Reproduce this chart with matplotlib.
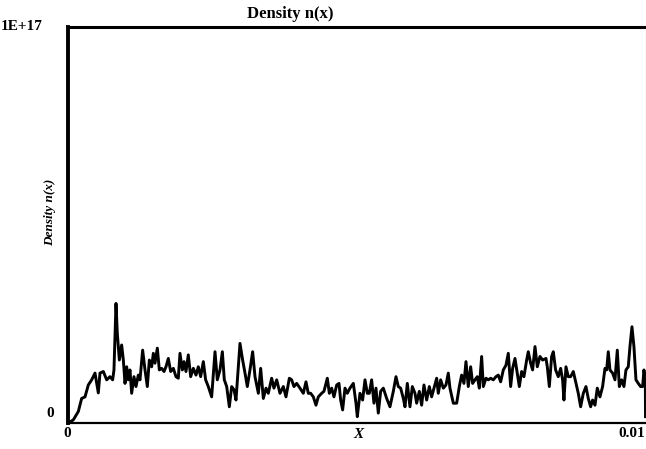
import matplotlib
matplotlib.use("Agg")
import matplotlib.pyplot as plt
import matplotlib.transforms as mtransforms
import numpy as np

# position along X in units of 1e-4, density in units of 1e16
x_pos = [0.0, 0.14, 1.01, 1.87, 2.45, 3.03, 3.60, 4.18, 4.76, 5.33, 5.62, 6.20, 6.78, 7.35, 7.81,
         8.04, 8.39, 8.62, 8.97, 9.37, 9.66, 9.95, 10.24, 10.52, 10.81, 11.10, 11.50, 11.85,
         12.25, 12.54, 13.00, 13.41, 13.81, 14.16, 14.56, 14.85, 15.14, 15.54, 15.89, 16.29,
         16.70, 17.04, 17.44, 17.85, 18.31, 18.77, 19.17, 19.46, 19.87, 20.16, 20.50, 20.90,
         21.31, 21.77, 22.23, 22.63, 23.04, 23.50, 23.90, 24.36, 24.94, 25.52, 25.92, 26.38,
         26.79, 27.13, 27.54, 28.00, 28.40, 28.81, 29.15, 29.84, 30.30, 30.71, 31.11, 31.57,
         32.03, 32.44,
         33.02, 33.42, 33.88, 34.34, 34.74, 35.32, 35.72, 36.19, 36.76, 37.34, 37.80, 38.38,
         38.78, 39.18, 39.65, 40.22, 40.80, 41.26, 41.66, 42.07, 42.53, 42.99, 43.39, 43.97,
         44.37, 44.95, 45.30, 45.70, 46.10, 46.57, 46.97, 47.26, 47.60, 48.01, 48.41, 48.87,
         49.45, 49.91, 50.14, 50.60, 51.06, 51.47, 51.87, 52.22, 52.62, 53.02, 53.37, 53.77,
         54.18, 54.64, 55.22, 55.79, 56.37, 56.83, 57.23, 57.64, 58.10, 58.39, 58.79, 59.25,
         59.66, 60.12, 60.41, 60.87, 61.27, 61.67, 62.14, 62.60, 63.00, 63.40, 63.87, 64.15,
         64.56, 65.02, 65.48, 65.88, 66.17,
         66.75, 67.33, 67.79, 68.19, 68.59, 68.94, 69.34, 69.75, 70.09, 70.50, 70.90, 71.25,
         71.65, 71.94, 72.40, 72.80, 73.21, 73.67, 74.13, 74.53, 74.94, 75.40, 75.86, 76.26,
         76.67, 77.01, 77.42, 77.82, 78.17, 78.57, 78.97, 79.44, 79.72, 80.13, 80.47, 80.88,
         81.28, 81.74, 82.20, 82.78, 83.01, 83.36, 83.76, 84.05, 84.45, 84.91, 85.32, 85.66,
         85.89, 86.24, 86.64, 87.05, 87.51, 87.97, 88.37, 88.78, 89.24, 89.70, 90.10, 90.51,
         90.85, 91.26, 91.66, 92.12, 92.58, 92.99, 93.28, 93.56, 93.85, 94.31, 94.72, 95.12,
         95.47, 95.87, 96.27, 96.62, 97.02, 97.31, 97.66, 98.00, 98.35, 98.75, 99.16, 99.50,
         99.73, 99.97, 100.0]

density = [0.0, 0.0, 0.08, 0.29, 0.62, 0.66, 0.96, 1.09, 1.26, 0.76, 1.26, 1.30, 1.09, 1.17, 1.09,
           1.34, 3.02, 2.26, 1.59, 1.97, 1.59, 1.00, 1.42, 1.09, 1.34, 0.75, 1.17, 0.92,
           1.21, 1.09, 1.84, 1.34, 0.92, 1.59, 1.42, 1.76, 1.51, 1.89, 1.34, 1.38,
           1.30, 1.42, 1.63, 1.30, 1.38, 1.17, 1.13, 1.76, 1.34, 1.55, 1.30, 1.72,
           1.17, 1.38, 1.21, 1.42, 1.17, 1.55, 1.09, 0.92, 0.66, 1.80, 1.09, 1.34,
           1.80, 1.09, 0.92, 0.41, 0.92, 0.84, 0.58, 2.01, 1.59, 1.26, 0.92, 1.34,
           1.80, 1.17,
           0.75, 1.38, 0.62, 0.88, 0.75, 1.13, 0.88, 1.09, 0.75, 0.92, 0.66, 1.13,
           1.09, 0.92, 1.00, 0.88, 0.75, 1.04, 0.75, 0.75, 0.66, 0.45, 0.66, 0.75,
           0.80, 1.13, 0.75, 0.88, 0.66, 0.96, 1.00, 0.58, 0.33, 0.88, 0.75, 0.88,
           1.00, 0.50, 0.16, 0.75, 0.58, 1.09, 0.75, 0.75, 1.09, 0.50, 0.88, 0.25,
           0.80, 0.88, 0.62, 0.41, 0.80, 1.17, 0.92, 0.88, 0.62, 0.41, 1.00, 0.41,
           0.92, 0.75, 0.50, 0.80, 0.45, 0.96, 0.58, 0.92, 0.66, 0.88, 1.13, 0.75,
           1.09, 0.88, 0.96, 1.26, 0.88,
           0.50, 0.50, 0.92, 1.21, 1.00, 1.55, 0.92, 1.42, 1.00, 1.09, 1.17, 0.88,
           1.68, 0.92, 1.13, 1.09, 1.13, 1.09, 1.17, 1.21, 1.04, 1.34, 1.46, 1.76,
           0.92, 1.38, 1.63, 1.26, 0.92, 1.30, 1.17, 1.59, 1.80, 1.51, 1.34, 1.93,
           1.42, 1.68, 1.59, 1.63, 1.42, 0.92, 1.68, 1.80, 1.34, 1.17, 1.38, 1.09,
           0.58, 1.42, 1.17, 1.17, 1.30, 1.00, 0.75, 0.41, 0.75, 0.92, 0.62, 0.41,
           0.58, 0.45, 0.88, 0.66, 0.92, 1.38, 1.34, 1.80, 1.34, 1.26, 1.09, 1.84,
           0.92, 1.09, 0.92, 1.34, 1.42, 1.93, 2.43, 1.93, 1.09, 1.00, 0.92, 0.92,
           1.34, 1.09, 0.16]

x_ticks = [0, 0.01]
x_ticklabels = ["0", "0.01"]
y_ticks = [0, 1e17]
y_ticklabels = ["0", "1E+17"]

plt.rcParams["font.family"] = ["Liberation Serif", "DejaVu Serif"]
plt.rcParams["font.weight"] = "bold"

W, H = 646, 449
fig = plt.figure(figsize=(W / 100, H / 100), dpi=100)
ax = fig.add_axes([67.5 / W, 1 - 423 / H, 578 / W, 396 / H])

x = np.array(x_pos) * 1e-4
n = np.array(density) * 1e16
ax.plot(x, n, color="black", lw=2.1, solid_joinstyle="round")

ax.set_xlim(0, 0.01)
ax.set_ylim(0, 1e17)

ax.set_xticks(x_ticks)
ax.set_xticklabels(x_ticklabels, fontsize=11, fontweight="bold")
ax.tick_params(length=0, pad=3)
xl = ax.get_xticklabels()
xl[1].set_horizontalalignment("right")

# y tick labels placed by hand, the two sit at different distances from the axis
ax.set_yticks(y_ticks)
ax.set_yticklabels([])
ytrans = ax.get_yaxis_transform()
lift = mtransforms.offset_copy(ytrans, fig=fig, x=0, y=3, units="dots")
ax.text(-0.030, y_ticks[0], y_ticklabels[0], transform=lift, ha="center", va="bottom",
        fontsize=11, fontweight="bold")
ax.text(-0.0424, y_ticks[1], y_ticklabels[1], transform=ytrans, ha="right", va="center",
        fontsize=11, fontweight="bold")

ax.set_xlabel("X", fontsize=11, fontweight="bold", style="italic")
ax.xaxis.label.set_verticalalignment("center")
ax.xaxis.set_label_coords((358 - 67.5) / 578, -(435 - 423) / 396)
ax.set_ylabel("Density n(x)", fontsize=9.5, fontweight="bold", style="italic")
ax.yaxis.label.set_verticalalignment("center")
ax.yaxis.set_label_coords((50 - 67.5) / 578, (423 - 212) / 396)

fig.text(290 / W, 1 - 14 / H, "Density n(x)", ha="center", va="center",
         fontsize=12, fontweight="bold")

ax.spines["left"].set_linewidth(2.8)
ax.spines["top"].set_linewidth(2.2)
ax.spines["bottom"].set_linewidth(1.6)
ax.spines["right"].set_linewidth(0.8)
ax.spines["right"].set_color("#888888")

fig.savefig("out.png", dpi=100)
